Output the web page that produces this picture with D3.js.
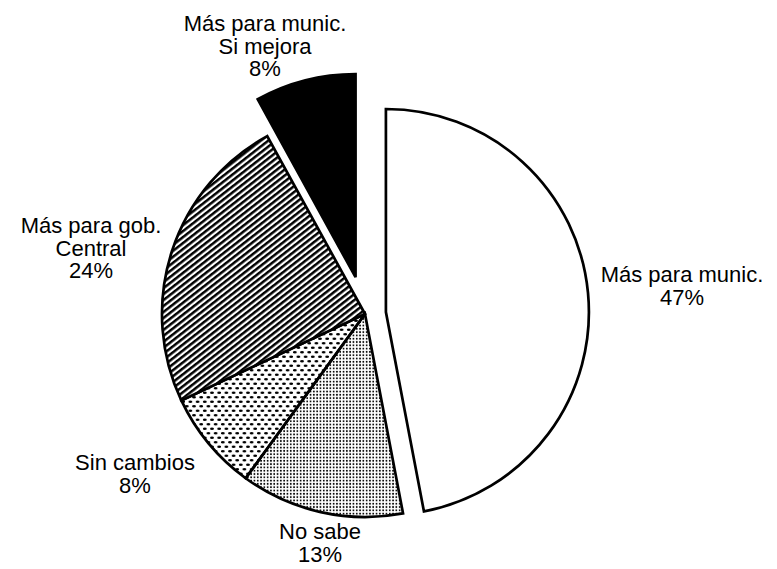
<!DOCTYPE html>
<html>
<head>
<meta charset="utf-8">
<script src="https://cdn.jsdelivr.net/npm/d3@7"></script>
<style>
  html, body { margin: 0; padding: 0; background: #fff; }
  svg { display: block; }
  text { font-family: "Liberation Sans", Arial, Helvetica, sans-serif; fill: #000; }
</style>
</head>
<body>
<svg id="chart" width="777" height="569"></svg>
<script>
// Opinion shares, clockwise from 12 o'clock
const categories = ["Más para munic.", "No sabe", "Sin cambios", "Más para gob. Central", "Más para munic. Si mejora"];
const shares = [47, 13, 8, 24, 8];
const labelLines = [
  ["Más para munic.", "47%"],
  ["No sabe", "13%"],
  ["Sin cambios", "8%"],
  ["Más para gob.", "Central", "24%"],
  ["Más para munic.", "Si mejora", "8%"]
];

const svg = d3.select("#chart");
const cx = 365, cy = 314, radius = 203;

// Fill patterns: plain, fine dots, dashes, diagonal hatch, solid
const defs = svg.append("defs");

const fine = defs.append("pattern").attr("id", "p-fine")
  .attr("patternUnits", "userSpaceOnUse").attr("width", 3.3).attr("height", 3.3);
fine.append("circle").attr("cx", 1.65).attr("cy", 1.65).attr("r", 0.95).attr("fill", "#000");

const dash = defs.append("pattern").attr("id", "p-dash")
  .attr("patternUnits", "userSpaceOnUse").attr("width", 7.2).attr("height", 9);
dash.append("ellipse").attr("cx", 1.8).attr("cy", 2.2).attr("rx", 1.9).attr("ry", 1.2).attr("fill", "#000");
dash.append("ellipse").attr("cx", 5.4).attr("cy", 6.7).attr("rx", 1.9).attr("ry", 1.2).attr("fill", "#000");

const hatch = defs.append("pattern").attr("id", "p-hatch")
  .attr("patternUnits", "userSpaceOnUse").attr("width", 10).attr("height", 4.7)
  .attr("patternTransform", "rotate(-38)");
hatch.append("rect").attr("width", 10).attr("height", 4.7).attr("fill", "#fff");
hatch.append("rect").attr("y", 0).attr("width", 10).attr("height", 2.5).attr("fill", "#000");

const fills = ["#fff", "url(#p-fine)", "url(#p-dash)", "url(#p-hatch)", "#000"];
const explode = [21, 0, 0, 0, 38];

const pie = d3.pie().sort(null).value(d => d)
  .startAngle(0).endAngle(2 * Math.PI);
const arc = d3.arc().innerRadius(0).outerRadius(radius);
const arcs = pie(shares);

const g = svg.append("g").attr("transform", `translate(${cx},${cy})`);

g.selectAll("path.slice")
  .data(arcs)
  .join("path")
  .attr("class", "slice")
  .attr("transform", (d, i) => {
    const a = (d.startAngle + d.endAngle) / 2;
    return `translate(${explode[i] * Math.sin(a)},${-explode[i] * Math.cos(a)})`;
  })
  .attr("d", arc)
  .attr("fill", (d, i) => fills[i])
  .attr("stroke", "#000")
  .attr("stroke-width", 2.7)
  .attr("stroke-linejoin", "miter");

// Label blocks: centre x and baseline of the first line
const labelPos = [
  [682, 282],
  [320, 539],
  [135, 470],
  [91, 233],
  [265, 31]
];
const lineGap = 22.7;

svg.selectAll("g.label")
  .data(labelLines)
  .join("g")
  .attr("class", "label")
  .attr("transform", (d, i) => `translate(${labelPos[i][0]},${labelPos[i][1]})`)
  .selectAll("text")
  .data(d => d)
  .join("text")
  .attr("text-anchor", "middle")
  .attr("y", (d, j) => j * lineGap)
  .attr("font-size", 22)
  .text(d => d);
</script>
</body>
</html>
